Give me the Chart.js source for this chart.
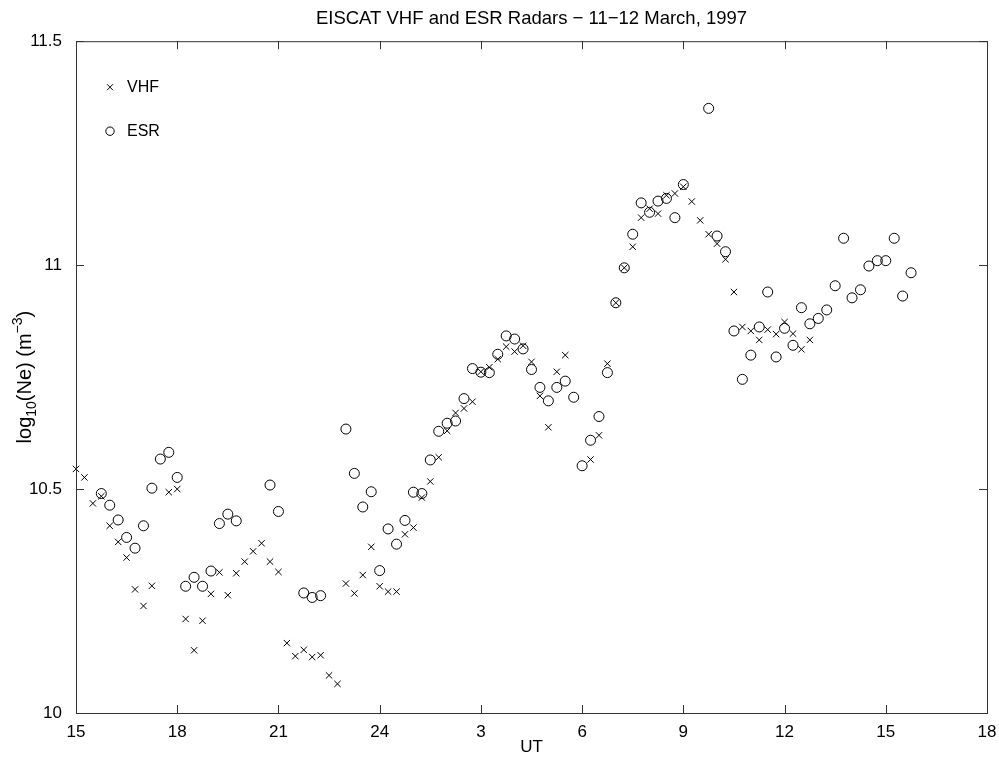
<!DOCTYPE html>
<html>
<head>
<meta charset="utf-8">
<script src="https://cdn.jsdelivr.net/npm/chart.js@4.4.1/dist/chart.umd.min.js"></script>
<style>
  body { margin: 0; background: #fff; }
</style>
</head>
<body>
<canvas id="myChart" width="999" height="757"></canvas>
<script>
// UT hours counted from 15 UT on 11 March (24 = midnight, 27 = 03 UT on 12 March ...)
const vhfTime = [
  15.00, 15.25, 15.50, 15.75, 16.00, 16.25, 16.50, 16.75, 17.00, 17.25,
  17.75, 18.00, 18.25, 18.50, 18.75, 19.00, 19.25, 19.50, 19.75, 20.00,
  20.25, 20.50, 20.75, 21.00, 21.25, 21.50, 21.75, 22.00, 22.25, 22.50,
  22.75, 23.00, 23.25, 23.50, 23.75, 24.00, 24.25, 24.50, 24.75, 25.00,
  25.25, 25.50, 25.75, 26.00, 26.25, 26.50, 26.75, 27.00, 27.25, 27.50,
  27.75, 28.00, 28.25, 28.50, 28.75, 29.00, 29.25, 29.50, 30.25, 30.50,
  30.75, 31.00, 31.25, 31.50, 31.75, 32.00, 32.25, 32.50, 32.75, 33.00,
  33.25, 33.50, 33.75, 34.00, 34.25, 34.50, 34.75, 35.00, 35.25, 35.50,
  35.75, 36.00, 36.25, 36.50, 36.75
];
const vhfNe = [
  10.545, 10.526, 10.468, 10.484, 10.418, 10.382, 10.347, 10.276, 10.239, 10.284,
  10.493, 10.500, 10.210, 10.140, 10.206, 10.266, 10.314, 10.263, 10.312, 10.338,
  10.361, 10.379, 10.338, 10.315, 10.156, 10.127, 10.141, 10.125, 10.129, 10.084,
  10.065, 10.289, 10.267, 10.308, 10.371, 10.283, 10.271, 10.271, 10.399, 10.414,
  10.481, 10.517, 10.571, 10.630, 10.670, 10.680, 10.695, 10.762, 10.772, 10.790,
  10.818, 10.807, 10.820, 10.784, 10.708, 10.638, 10.762, 10.799, 10.566, 10.620,
  10.780, 10.916, 10.994, 11.041, 11.106, 11.126, 11.115, 11.156, 11.160, 11.175,
  11.142, 11.100, 11.069, 11.048, 11.013, 10.940, 10.862, 10.853, 10.833, 10.856,
  10.846, 10.873, 10.847, 10.812, 10.833
];

const esrTime = [
  15.75, 16.00, 16.25, 16.50, 16.75, 17.00, 17.25, 17.50, 17.75, 18.00,
  18.25, 18.50, 18.75, 19.00, 19.25, 19.50, 19.75, 20.75, 21.00, 21.75,
  22.00, 22.25, 23.00, 23.25, 23.50, 23.75, 24.00, 24.25, 24.50, 24.75,
  25.00, 25.25, 25.50, 25.75, 26.00, 26.25, 26.50, 26.75, 27.00, 27.25,
  27.50, 27.75, 28.00, 28.25, 28.50, 28.75, 29.00, 29.25, 29.50, 29.75,
  30.00, 30.25, 30.50, 30.75, 31.00, 31.25, 31.50, 31.75, 32.00, 32.25,
  32.50, 32.75, 33.00, 33.75, 34.00, 34.25, 34.50, 34.75, 35.00, 35.25,
  35.50, 35.75, 36.00, 36.25, 36.50, 36.75, 37.00, 37.25, 37.50, 37.75,
  38.00, 38.25, 38.50, 38.75, 39.00, 39.25, 39.50, 39.75
];
const esrNe = [
  10.490, 10.464, 10.431, 10.392, 10.368, 10.418, 10.502, 10.567, 10.582, 10.526,
  10.283, 10.303, 10.283, 10.317, 10.423, 10.444, 10.429, 10.509, 10.450, 10.268,
  10.258, 10.262, 10.634, 10.535, 10.460, 10.494, 10.318, 10.411, 10.377, 10.430,
  10.493, 10.490, 10.565, 10.629, 10.647, 10.652, 10.702, 10.769, 10.761, 10.760,
  10.801, 10.842, 10.835, 10.813, 10.767, 10.727, 10.697, 10.727, 10.741, 10.705,
  10.552, 10.609, 10.662, 10.760, 10.916, 10.994, 11.069, 11.139, 11.118, 11.143,
  11.149, 11.106, 11.180, 11.350, 11.065, 11.030, 10.853, 10.745, 10.799, 10.862,
  10.940, 10.795, 10.859, 10.821, 10.905, 10.869, 10.881, 10.900, 10.954, 11.060,
  10.927, 10.945, 10.998, 11.010, 11.010, 11.060, 10.931, 10.983
];

const xTickValues = [15, 18, 21, 24, 27, 30, 33, 36, 39, 42];
const xTickLabels = ['15', '18', '21', '24', '3', '6', '9', '12', '15', '18'];
const yTickValues = [10, 10.5, 11, 11.5];
const yTickLabels = ['10', '10.5', '11', '11.5'];

const FONT = '"Liberation Sans", Arial, Helvetica, sans-serif';
const INK = '#000';

// box round the axes with inward tick marks (matlab style)
const framePlugin = {
  id: 'frame',
  afterDraw(chart) {
    const { ctx, chartArea: a, scales: { x, y } } = chart;
    ctx.save();
    ctx.strokeStyle = '#333';
    ctx.lineWidth = 1;
    ctx.strokeRect(a.left + 0.5, a.top + 0.5, a.right - a.left, a.bottom - a.top);
    ctx.beginPath();
    xTickValues.forEach(v => {
      const px = Math.round(x.getPixelForValue(v)) + 0.5;
      ctx.moveTo(px, a.bottom); ctx.lineTo(px, a.bottom - 8);
      ctx.moveTo(px, a.top); ctx.lineTo(px, a.top + 8);
    });
    yTickValues.forEach(v => {
      const py = Math.round(y.getPixelForValue(v)) + 0.5;
      ctx.moveTo(a.left, py); ctx.lineTo(a.left + 8, py);
      ctx.moveTo(a.right, py); ctx.lineTo(a.right - 8, py);
    });
    ctx.stroke();

    // legend, top left inside the axes
    ctx.fillStyle = INK;
    ctx.strokeStyle = INK;
    ctx.font = '16px ' + FONT;
    ctx.textBaseline = 'middle';
    const lx = a.left + 34;
    const ly1 = a.top + 46, ly2 = a.top + 90;
    ctx.beginPath();
    ctx.moveTo(lx - 3, ly1 - 3); ctx.lineTo(lx + 3, ly1 + 3);
    ctx.moveTo(lx + 3, ly1 - 3); ctx.lineTo(lx - 3, ly1 + 3);
    ctx.stroke();
    ctx.beginPath();
    ctx.arc(lx, ly2, 4.2, 0, Math.PI * 2);
    ctx.stroke();
    ctx.fillText('VHF', lx + 17, ly1);
    ctx.fillText('ESR', lx + 17, ly2);

    // y axis label with sub/superscript
    const cy = (a.top + a.bottom) / 2;
    ctx.translate(24, cy);
    ctx.rotate(-Math.PI / 2);
    const parts = [
      { t: 'log', s: 20, dy: 0 },
      { t: '10', s: 14, dy: 5 },
      { t: '(Ne) (m', s: 20, dy: 0 },
      { t: '\u22123', s: 14, dy: -9 },
      { t: ')', s: 20, dy: 0 }
    ];
    let total = 0;
    parts.forEach(p => { ctx.font = p.s + 'px ' + FONT; p.w = ctx.measureText(p.t).width; total += p.w; });
    let cx = -total / 2;
    ctx.textBaseline = 'alphabetic';
    parts.forEach(p => {
      ctx.font = p.s + 'px ' + FONT;
      ctx.fillText(p.t, cx, 7 + p.dy);
      cx += p.w;
    });
    ctx.restore();
  }
};

const ctx = document.getElementById('myChart').getContext('2d');
const myChart = new Chart(ctx, {
  type: 'scatter',
  data: {
    datasets: [
      {
        label: 'VHF',
        data: vhfTime.map((t, i) => ({ x: t, y: vhfNe[i] })),
        pointStyle: 'crossRot',
        pointRadius: 4.5,
        pointBorderWidth: 1,
        borderColor: INK,
        backgroundColor: INK,
        clip: false
      },
      {
        label: 'ESR',
        data: esrTime.map((t, i) => ({ x: t, y: esrNe[i] })),
        pointStyle: 'circle',
        pointRadius: 5,
        pointBorderWidth: 1,
        borderColor: INK,
        backgroundColor: 'rgba(0,0,0,0)',
        clip: false
      }
    ]
  },
  options: {
    responsive: false,
    animation: false,
    events: [],
    layout: { padding: { left: 0, right: 12, top: 0, bottom: 0 } },
    plugins: {
      legend: { display: false },
      tooltip: { enabled: false },
      title: {
        display: true,
        fullSize: false,
        text: 'EISCAT VHF and ESR Radars \u2212 11\u221212 March, 1997',
        color: INK,
        font: { family: FONT, size: 18.5, weight: 'normal' },
        padding: { top: 8, bottom: 11 }
      }
    },
    scales: {
      x: {
        type: 'linear',
        min: 15,
        max: 42,
        afterFit: s => { s.height = 44; },
        afterBuildTicks: s => { s.ticks = xTickValues.map(v => ({ value: v })); },
        grid: { display: false },
        border: { display: false },
        ticks: {
          color: INK,
          padding: 1,
          maxRotation: 0,
          autoSkip: false,
          font: { family: FONT, size: 17 },
          callback: v => xTickLabels[xTickValues.indexOf(v)]
        },
        title: {
          display: true,
          text: 'UT',
          color: INK,
          font: { family: FONT, size: 17 },
          padding: { top: 0, bottom: -1 }
        }
      },
      y: {
        min: 10,
        max: 11.5,
        afterFit: s => { s.width = 76; },
        afterBuildTicks: s => { s.ticks = yTickValues.map(v => ({ value: v })); },
        grid: { display: false },
        border: { display: false },
        ticks: {
          color: INK,
          padding: 6,
          autoSkip: false,
          font: { family: FONT, size: 17 },
          callback: v => yTickLabels[yTickValues.indexOf(v)]
        }
      }
    }
  },
  plugins: [framePlugin]
});
</script>
</body>
</html>
